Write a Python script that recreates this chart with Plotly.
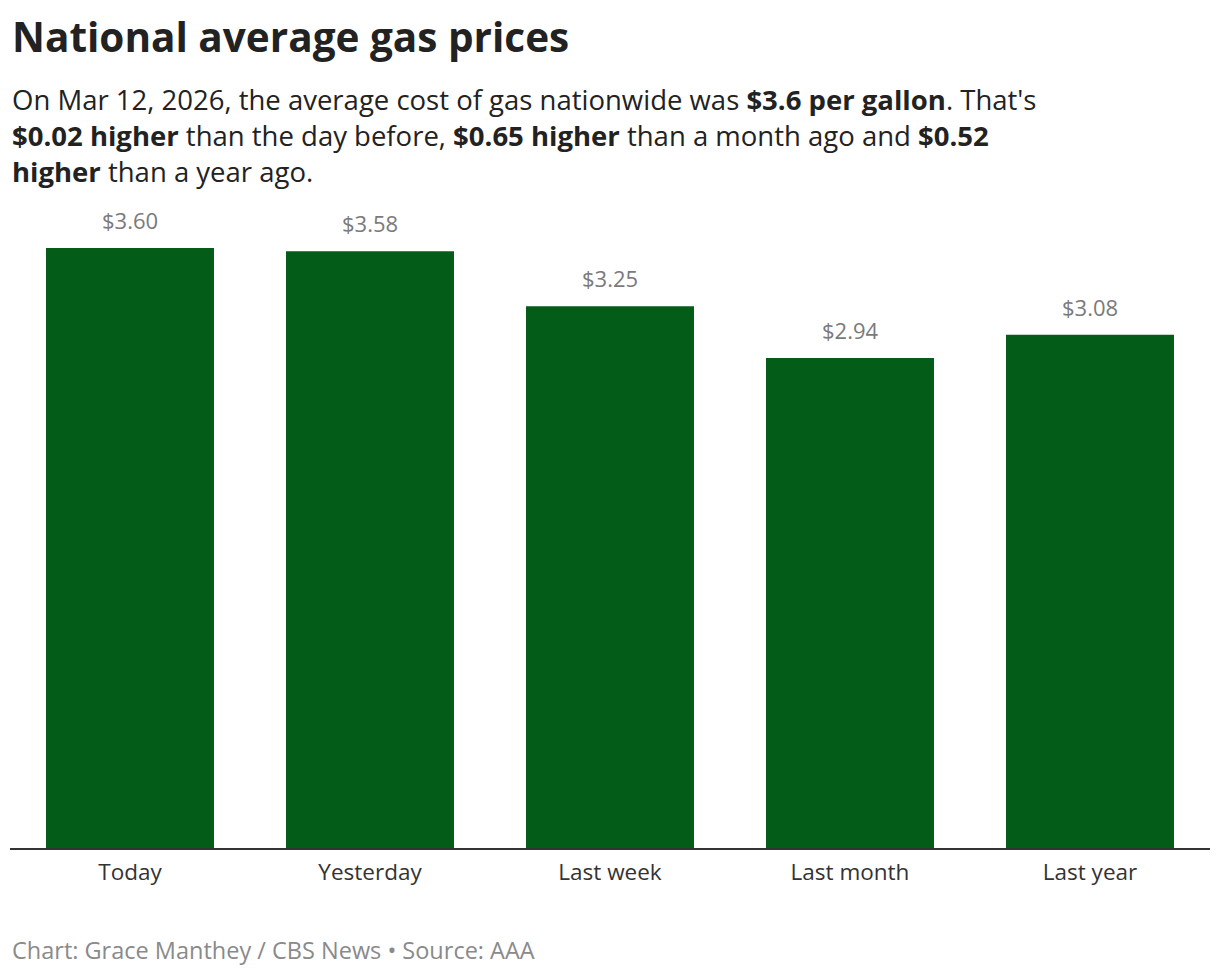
import plotly.graph_objects as go

categories = ["Today", "Yesterday", "Last week", "Last month", "Last year"]
prices = [3.60, 3.58, 3.25, 2.94, 3.08]
value_labels = ["$3.60", "$3.58", "$3.25", "$2.94", "$3.08"]

title_text = "<b>National average gas prices</b>"
subtitle_lines = [
    "On Mar 12, 2026, the average cost of gas nationwide was <b>$3.6 per gallon</b>. That's",
    "<b>$0.02 higher</b> than the day before, <b>$0.65 higher</b> than a month ago and <b>$0.52</b>",
    "<b>higher</b> than a year ago.",
]
footer_text = "Chart: Grace Manthey / CBS News \u2022 Source: AAA"

FONT = "Open Sans"
GREEN = "#035c17"

fig = go.Figure()
fig.add_trace(go.Bar(
    x=categories, y=prices, marker=dict(color=GREEN, line=dict(width=0)),
    hoverinfo="skip",
))

annotations = []
for c, v, t in zip(categories, prices, value_labels):
    annotations.append(dict(x=c, y=v, xref="x", yref="y", text=t, showarrow=False,
                            yanchor="bottom", yshift=11,
                            font=dict(family=FONT, size=22, color="#7a7a7a")))

annotations.append(dict(x=0, y=1.253, xref="paper", yref="paper", xanchor="left", yanchor="middle",
                        text=title_text, showarrow=False, align="left",
                        font=dict(family=FONT, size=40.5, color="#222222")))
annotations.append(dict(x=0, y=1.0995, xref="paper", yref="paper", xanchor="left", yanchor="middle",
                        text="<br>".join(subtitle_lines), showarrow=False, align="left",
                        font=dict(family=FONT, size=27.5, color="#222222")))
annotations.append(dict(x=0, y=-0.157, xref="paper", yref="paper", xanchor="left", yanchor="middle",
                        text=footer_text, showarrow=False, align="left",
                        font=dict(family=FONT, size=23.5, color="#8a8a8a")))

fig.update_layout(
    width=1212, height=968,
    margin=dict(l=2, r=10, t=192, b=128),
    paper_bgcolor="white", plot_bgcolor="white",
    bargap=0.3, showlegend=False,
    annotations=annotations,
    font=dict(family=FONT),
)
fig.update_xaxes(showline=True, linecolor="#333333", linewidth=2, ticks="outside", ticklen=3,
                 tickcolor="rgba(0,0,0,0)", tickfont=dict(family=FONT, size=22.5, color="#333333"),
                 showgrid=False, fixedrange=True)
fig.update_yaxes(range=[0, 3.888], visible=False, showgrid=False, fixedrange=True)

fig.write_html("out.html", config={"displayModeBar": False})
